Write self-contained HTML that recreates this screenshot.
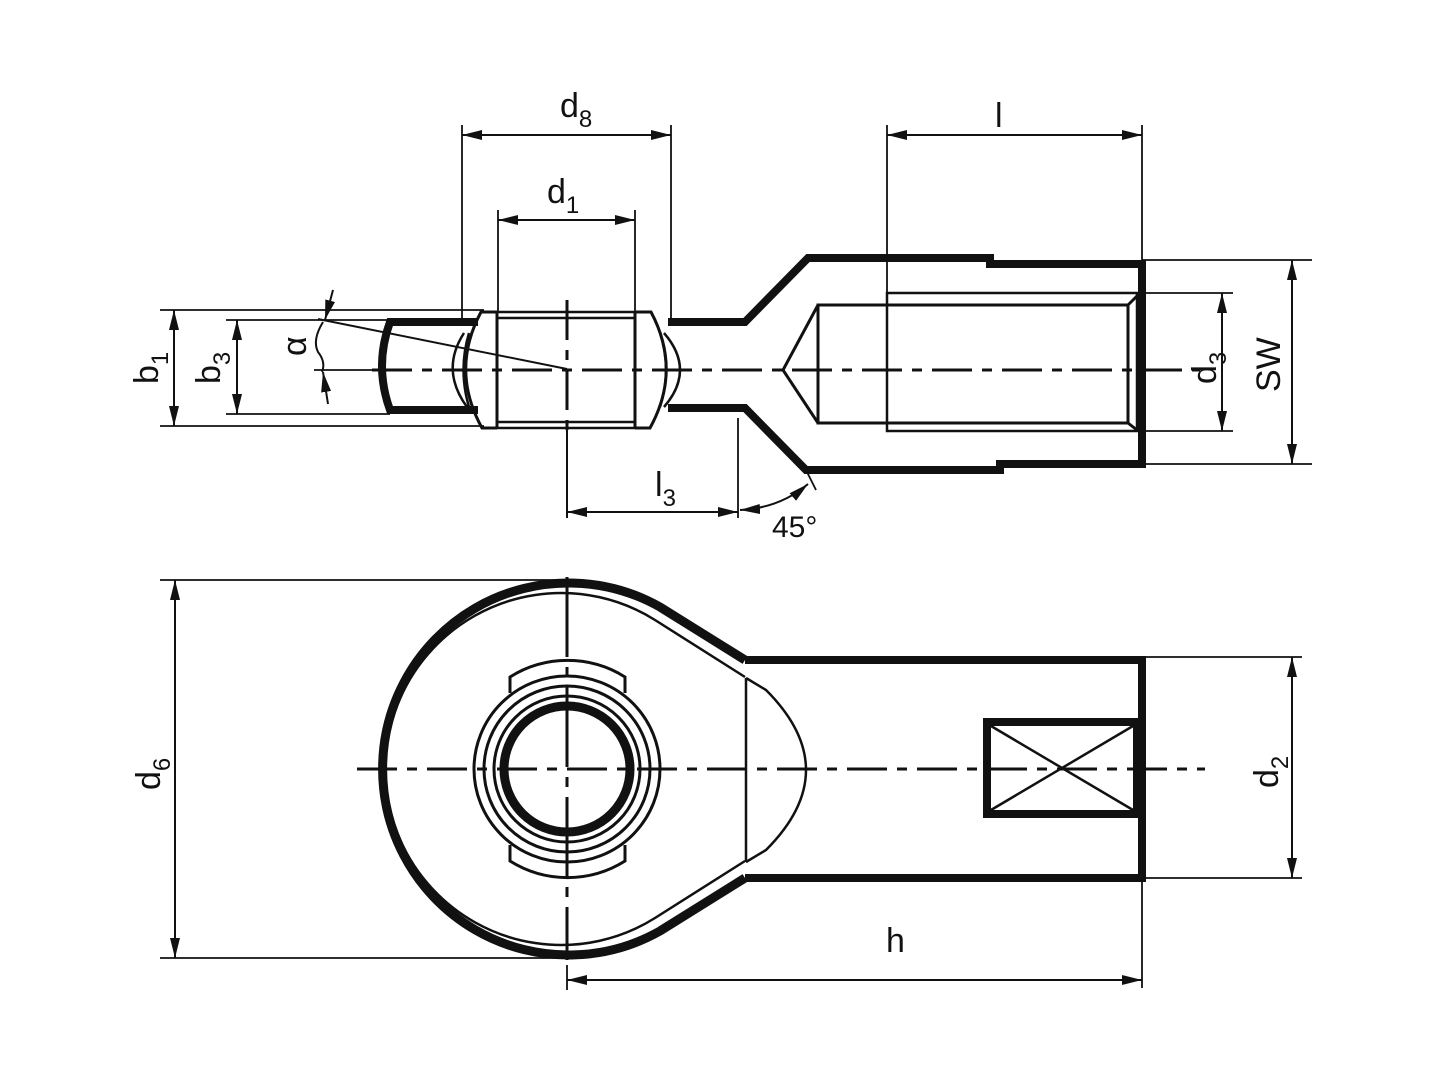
<!DOCTYPE html>
<html><head><meta charset="utf-8"><style>
html,body{margin:0;padding:0;background:#fff}
svg{display:block}
text{font-family:"Liberation Sans",sans-serif;fill:#111}
</style></head><body>
<svg width="1440" height="1080" viewBox="0 0 1440 1080" xmlns="http://www.w3.org/2000/svg">
<defs>
<marker id="a" viewBox="0 0 20 10" refX="20" refY="5" markerWidth="20" markerHeight="10" markerUnits="userSpaceOnUse" orient="auto-start-reverse"><path d="M0,0 L20,5 L0,10 Z" fill="#111"/></marker>
</defs>
<g stroke="#111" fill="none" stroke-linecap="butt">
<!-- ===== TOP VIEW ===== -->
<line x1="372" y1="370" x2="1200" y2="370" stroke-width="3" stroke-dasharray="40,10,10,10"/>
<line x1="567" y1="300" x2="567" y2="430" stroke-width="3" stroke-dasharray="40,10,10,10"/>
<line x1="567" y1="430" x2="567" y2="518" stroke-width="2"/>
<path d="M668,322 L745,322 L808,258 L990,258 L990,264 L1142,264 L1142,464 L1000,464 L1000,470 L806,470 L745,408 L668,408" stroke-width="8" stroke-linejoin="miter"/>
<rect x="887" y="293" width="250" height="138" stroke-width="2.5"/>
<path d="M1128,305 L818,305 L818,423 L1128,423 M818,305 L783,370 L818,423 M1128,305 L1137,296 M1128,423 L1137,430 M1128,305 L1128,423" stroke-width="3"/>
<path d="M478,322 L390,322 Q374,366 390,410 L478,410" stroke-width="8"/>
<path d="M497,312 L635,312 M497,428 L635,428 M497,318 L635,318 M497,422 L635,422" stroke-width="2.5"/>
<path d="M497,312 L497,428 M635,312 L635,428" stroke-width="3"/>
<path d="M497,312 L481,312 Q450,370 482,428 L497,428" stroke-width="3"/>
<path d="M635,312 L651,312 Q682,370 650,428 L635,428" stroke-width="3"/>
<path d="M464,333 Q440,370 467,407 M469,333 Q458,370 469,407" stroke-width="2.5"/>
<path d="M664,333 Q696,370 664,407 M660,333 Q672,370 660,407" stroke-width="2.5"/>
<path d="M160,310 L484,310 M160,426 L484,426 M226,320 L390,320 M226,414 L390,414 M314,370 L372,370" stroke-width="1.8"/>
<line x1="174" y1="310" x2="174" y2="426" stroke-width="2" marker-start="url(#a)" marker-end="url(#a)"/>
<line x1="237" y1="320" x2="237" y2="414" stroke-width="2" marker-start="url(#a)" marker-end="url(#a)"/>
<line x1="318" y1="319" x2="567" y2="369" stroke-width="2"/>
<line x1="333" y1="290" x2="325" y2="320" stroke-width="2" marker-end="url(#a)"/>
<line x1="328" y1="404" x2="323" y2="372" stroke-width="2" marker-end="url(#a)"/>
<path d="M323,322 Q312,340 318,352 Q326,362 322,372" stroke-width="2"/>
<path d="M462,125 L462,320 M671,125 L671,320 M498,210 L498,312 M635,210 L635,312 M887,125 L887,293 M1142,125 L1142,264" stroke-width="1.8"/>
<line x1="462" y1="135" x2="671" y2="135" stroke-width="2" marker-start="url(#a)" marker-end="url(#a)"/>
<line x1="498" y1="220" x2="635" y2="220" stroke-width="2" marker-start="url(#a)" marker-end="url(#a)"/>
<line x1="887" y1="135" x2="1142" y2="135" stroke-width="2" marker-start="url(#a)" marker-end="url(#a)"/>
<path d="M1142,260 L1312,260 M1142,464 L1312,464 M1142,293 L1233,293 M1142,431 L1233,431" stroke-width="1.8"/>
<line x1="1292" y1="260" x2="1292" y2="464" stroke-width="2" marker-start="url(#a)" marker-end="url(#a)"/>
<line x1="1222" y1="293" x2="1222" y2="431" stroke-width="2" marker-start="url(#a)" marker-end="url(#a)"/>
<line x1="738" y1="418" x2="738" y2="518" stroke-width="1.8"/>
<line x1="567" y1="512" x2="738" y2="512" stroke-width="2" marker-start="url(#a)" marker-end="url(#a)"/>
<line x1="806" y1="470" x2="816" y2="490" stroke-width="1.8"/>
<path d="M740,510 Q780,508 808,484" stroke-width="2" marker-start="url(#a)" marker-end="url(#a)"/>
<!-- ===== BOTTOM VIEW ===== -->
<line x1="357" y1="769" x2="1205" y2="769" stroke-width="3" stroke-dasharray="40,10,10,10"/>
<line x1="567" y1="577" x2="567" y2="960" stroke-width="3" stroke-dasharray="80,10,10,10"/>
<line x1="567" y1="965" x2="567" y2="990" stroke-width="1.8"/>
<path d="M745,660 L660,607 A186,186 0 1 0 660,931 L745,878" stroke-width="9"/>
<path d="M745,660 L1142,660 L1142,878 L745,878" stroke-width="8"/>
<path d="M745,677 L655,620 A176,176 0 1 0 655,918 L745,861" stroke-width="2.5"/>
<path d="M746,678 L746,862 M746,678 L766,690 Q806,730 806,770 Q806,810 766,850 L746,862" stroke-width="2.5"/>
<rect x="987" y="722" width="150" height="92" stroke-width="8"/>
<path d="M991,726 L1133,810 M991,810 L1133,726" stroke-width="2.5"/>
<circle cx="567" cy="769" r="63" stroke-width="9"/>
<circle cx="567" cy="769" r="73" stroke-width="3"/>
<circle cx="567" cy="769" r="83" stroke-width="3"/>
<circle cx="567" cy="769" r="93" stroke-width="3"/>
<path d="M510,693 L510,677 A108,108 0 0 1 625,677 L625,693" stroke-width="3"/>
<path d="M510,845 L510,861 A108,108 0 0 0 625,861 L625,845" stroke-width="3"/>
<path d="M160,580 L567,580 M160,958 L567,958 M1142,657 L1302,657 M1142,878 L1302,878 M1142,878 L1142,988" stroke-width="1.8"/>
<line x1="175" y1="580" x2="175" y2="958" stroke-width="2" marker-start="url(#a)" marker-end="url(#a)"/>
<line x1="1292" y1="657" x2="1292" y2="878" stroke-width="2" marker-start="url(#a)" marker-end="url(#a)"/>
<line x1="567" y1="980" x2="1142" y2="980" stroke-width="2" marker-start="url(#a)" marker-end="url(#a)"/>
</g>
<g font-size="34">
<text x="560" y="117">d<tspan font-size="24" dy="10">8</tspan></text>
<text x="547" y="203">d<tspan font-size="24" dy="10">1</tspan></text>
<text x="995" y="127">l</text>
<text x="655" y="496">l<tspan font-size="24" dy="10">3</tspan></text>
<text x="772" y="537" font-size="30">45°</text>
<text x="886" y="952">h</text>
<text transform="translate(158,384) rotate(-90)">b<tspan font-size="24" dy="10">1</tspan></text>
<text transform="translate(220,384) rotate(-90)">b<tspan font-size="24" dy="10">3</tspan></text>
<text transform="translate(306,356) rotate(-90)">α</text>
<text transform="translate(1216,384) rotate(-90)">d<tspan font-size="24" dy="10">3</tspan></text>
<text transform="translate(1280,392) rotate(-90)">SW</text>
<text transform="translate(160,790) rotate(-90)">d<tspan font-size="24" dy="10">6</tspan></text>
<text transform="translate(1278,788) rotate(-90)">d<tspan font-size="24" dy="10">2</tspan></text>
</g>
</svg>
</body></html>
